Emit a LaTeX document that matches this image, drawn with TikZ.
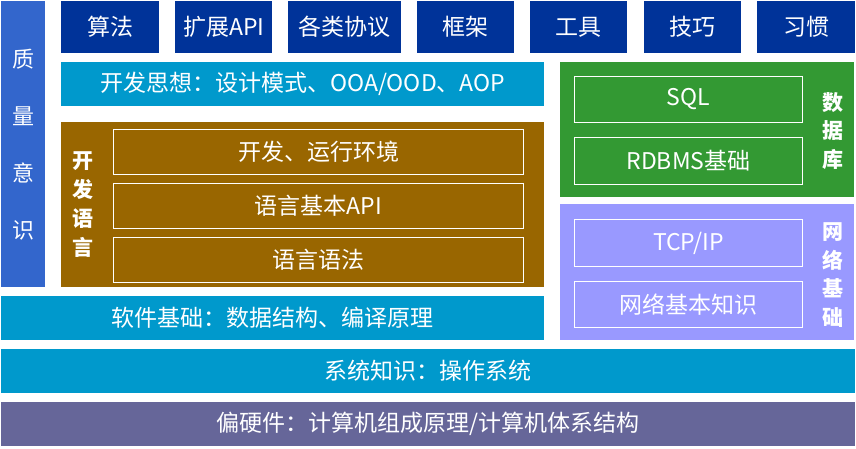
\documentclass[tikz,border=0pt]{standalone}
\usepackage{fontspec}
\setmainfont{Noto Sans CJK SC}
\usepackage{xcolor}
\usetikzlibrary{positioning}
\definecolor{qualityblue}{RGB}{51,102,204}
\definecolor{navyblock}{RGB}{0,51,153}
\definecolor{skyband}{RGB}{0,153,204}
\definecolor{langbrown}{RGB}{153,102,0}
\definecolor{dbgreen}{RGB}{51,153,51}
\definecolor{netpurple}{RGB}{153,153,255}
\definecolor{hwslate}{RGB}{102,102,153}
\tikzset{
  wh/.style 2 args={minimum width=#1, minimum height=#2},
  blk/.style={anchor=north west, inner sep=0pt, text=white, align=center,
    font=\fontsize{23}{27}\selectfont},
  inbox/.style={blk, draw=white, line width=1pt},
  sidelabel/.style={text=white, align=center, inner sep=0pt,
    font=\bfseries\fontsize{21}{29}\selectfont}
}

\begin{document}
\begin{tikzpicture}[x=1pt, y=-1pt]
  \useasboundingbox (0,0) rectangle (856,448);
  % left bar
  \node[blk, fill=qualityblue, wh={44pt}{286pt},
    font=\fontsize{22}{57}\selectfont] (quality) at (1,1) {质\\量\\意\\识};
  % top row
  \foreach \x/\w/\txt [count=\i] in {61/98/算法, 175/97/扩展API, 288/113/各类协议,
      417/97/框架, 530/97/工具, 644/97/技巧, 757/98/习惯}
    \node[blk, fill=navyblock, wh={\w pt}{52pt}] (top\i) at (\x,1) {\txt};
  \node[blk, fill=skyband, wh={483pt}{44pt}] (idea) at (61,62)
    {开发思想：设计模式、OOA/OOD、AOP};
  % language block
  \node[blk, fill=langbrown, wh={483pt}{165pt}] (lang) at (61,122) {};
  \node[sidelabel] (langlbl) at (83,205) {开\\发\\语\\言};
  \node[inbox, wh={410pt}{45pt}] (runenv) at (113,129) {开发、运行环境};
  \node[inbox, wh={410pt}{45pt}, below=8pt of runenv] (langapi) {语言基本API};
  \node[inbox, wh={410pt}{45pt}, below=8pt of langapi] (syntax) {语言语法};
  % database
  \node[blk, fill=dbgreen, wh={294pt}{135pt}] (db) at (560,62) {};
  \node[inbox, wh={228pt}{46pt}] (sql) at (574,76) {SQL};
  \node[inbox, wh={228pt}{47pt}, below=14pt of sql] (rdbms) {RDBMS基础};
  \node[sidelabel, font=\bfseries\fontsize{21}{28.5}\selectfont] (dblbl) at (833,131) {数\\据\\库};
  % network
  \node[blk, fill=netpurple, wh={294pt}{136pt}] (net) at (560,204) {};
  \node[inbox, wh={228pt}{47pt}] (tcpip) at (574,219) {TCP/IP};
  \node[inbox, wh={228pt}{46pt}, below=14pt of tcpip] (netbasic) {网络基本知识};
  \node[sidelabel, font=\bfseries\fontsize{21}{28.5}\selectfont] (netlbl) at (833,275) {网\\络\\基\\础};
  % bottom bands
  \node[blk, fill=skyband, wh={543pt}{44pt}] (software) at (1,296)
    {软件基础：数据结构、编译原理};
  \node[blk, fill=skyband, wh={854pt}{44pt}] (system) at (1,349)
    {系统知识：操作系统};
  \node[blk, fill=hwslate, wh={854pt}{44pt}] (hardware) at (1,402)
    {偏硬件：计算机组成原理/计算机体系结构};
\end{tikzpicture}
\end{document}
